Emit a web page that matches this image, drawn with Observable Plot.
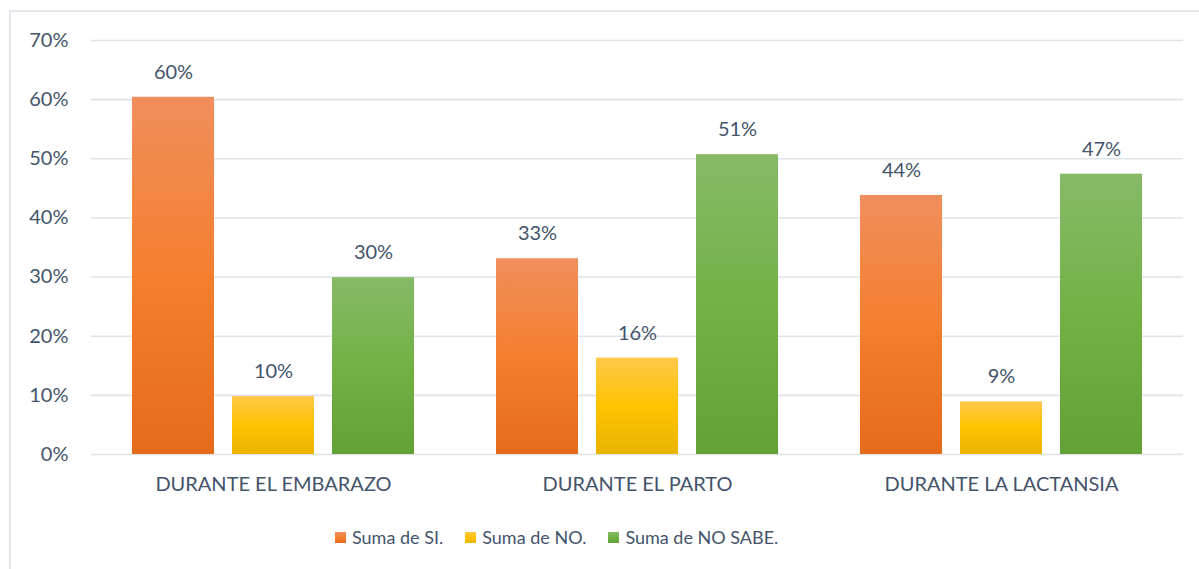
<!DOCTYPE html>
<html>
<head>
<meta charset="utf-8">
<script src="https://cdn.jsdelivr.net/npm/d3@7"></script>
<script src="https://cdn.jsdelivr.net/npm/@observablehq/plot@0.6"></script>
<style>
  html, body { margin: 0; padding: 0; background: #fff; overflow: hidden; }
  body { width: 1199px; height: 569px; position: relative; font-family: Lato, "Open Sans", sans-serif; }
  #frame { position: absolute; left: 9px; top: 10px; width: 1300px; height: 700px; border: 2px solid #e3e7ec; box-sizing: border-box; }
  #chart { position: absolute; left: 0; top: 0; }
  #legend { position: absolute; left: 335px; top: 525px; display: flex; align-items: center; font-size: 18px; line-height: 24px; color: #44546a; white-space: nowrap; }
  .item { display: flex; align-items: center; margin-right: 22px; }
  .sw { width: 11px; height: 11px; margin-right: 6px; }
</style>
</head>
<body>
<div id="frame"></div>
<div id="chart"></div>
<div id="legend"></div>
<script>
const categories = ["DURANTE EL EMBARAZO", "DURANTE EL PARTO", "DURANTE LA LACTANSIA"];
const series = ["Suma de SI.", "Suma de NO.", "Suma de NO SABE."];
const valuesSI = [0.604, 0.331, 0.438];
const valuesNO = [0.098, 0.163, 0.089];
const valuesNoSabe = [0.299, 0.507, 0.474];
const yTicks = [0, 0.1, 0.2, 0.3, 0.4, 0.5, 0.6, 0.7];

const gradients = [
  {id: "gSI", stops: ["#f08e5c", "#f47f2f", "#e46b1b"]},
  {id: "gNO", stops: ["#ffc84a", "#ffc300", "#e9b400"]},
  {id: "gNS", stops: ["#87b967", "#72b245", "#61a135"]}
];

const seriesValues = [valuesSI, valuesNO, valuesNoSabe];
const data = [];
categories.forEach((c, i) => {
  series.forEach((s, j) => data.push({category: c, series: s, value: seriesValues[j][i]}));
});

const textColor = "#44546a";
const fmt = d3.format(".0%");

const chart = Plot.plot({
  width: 1199,
  height: 500,
  marginLeft: 90,
  marginRight: 15,
  marginTop: 40,
  marginBottom: 46,
  style: {fontFamily: "Lato, 'Open Sans', sans-serif", color: textColor, background: "transparent", overflow: "visible"},
  fx: {domain: categories, padding: 0, label: null},
  x: {domain: series, paddingInner: 0.184, paddingOuter: 0.40, axis: null},
  y: {domain: [0, 0.7], label: null},
  color: {type: "ordinal", domain: series, range: gradients.map(g => `url(#${g.id})`)},
  marks: [
    Plot.ruleY(yTicks, {stroke: "#dfe3e9", strokeWidth: 1.6}),
    Plot.axisY(yTicks, {tickFormat: fmt, label: null, tickSize: 0, tickPadding: 23, fontSize: 20, fill: textColor}),
    Plot.axisFx({anchor: "bottom", label: null, tickSize: 0, tickPadding: 22, fontSize: 20, fill: textColor}),
    Plot.barY(data, {fx: "category", x: "series", y: "value", fill: "series"}),
    Plot.text(data, {fx: "category", x: "series", y: "value", text: d => fmt(d.value), dy: -25, fontSize: 20, fill: textColor})
  ]
});

// gradient defs
const svg = d3.select(chart);
const defs = svg.insert("defs", ":first-child");
gradients.forEach(g => {
  const lg = defs.append("linearGradient").attr("id", g.id).attr("x1", 0).attr("y1", 0).attr("x2", 0).attr("y2", 1);
  lg.append("stop").attr("offset", "0%").attr("stop-color", g.stops[0]);
  lg.append("stop").attr("offset", "50%").attr("stop-color", g.stops[1]);
  lg.append("stop").attr("offset", "100%").attr("stop-color", g.stops[2]);
});
document.getElementById("chart").appendChild(chart);

// legend
const legend = document.getElementById("legend");
series.forEach((s, j) => {
  const item = document.createElement("div");
  item.className = "item";
  const g = gradients[j];
  item.innerHTML = `<div class="sw" style="background:linear-gradient(${g.stops[0]}, ${g.stops[1]}, ${g.stops[2]})"></div><span>${s}</span>`;
  legend.appendChild(item);
});
</script>
</body>
</html>
